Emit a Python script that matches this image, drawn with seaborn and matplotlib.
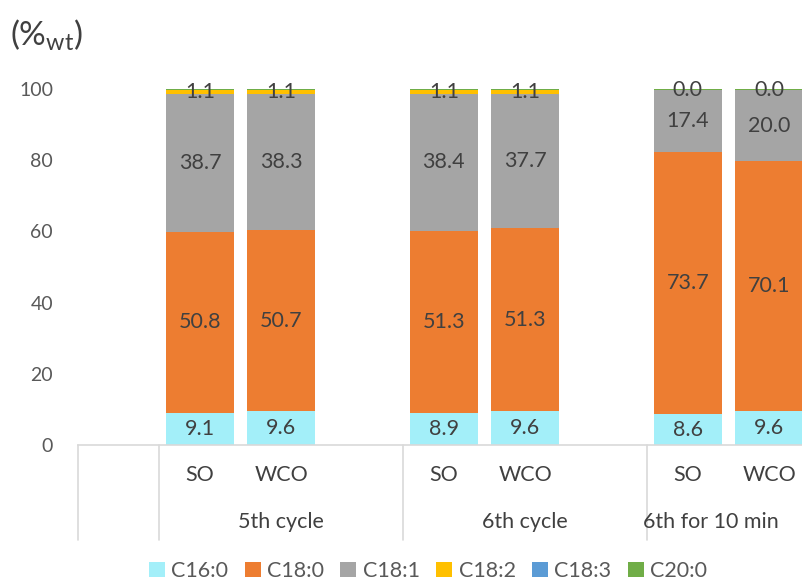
import matplotlib
matplotlib.use("Agg")
import matplotlib.pyplot as plt
import matplotlib.transforms as mtransforms
from matplotlib.patches import Patch
import seaborn as sns
import pandas as pd
import numpy as np

# ---- data ----
groups = ["5th cycle", "6th cycle", "6th for 10 min"]
samples = ["SO", "WCO"]
components = ["C16:0", "C18:0", "C18:1", "C18:2", "C18:3", "C20:0"]
c16_0 = [9.1, 9.6, 8.9, 9.6, 8.6, 9.6]
c18_0 = [50.8, 50.7, 51.3, 51.3, 73.7, 70.1]
c18_1 = [38.7, 38.3, 38.4, 37.7, 17.4, 20.0]
c18_2 = [1.1, 1.1, 1.1, 1.1, 0.0, 0.0]
c18_3 = [0.1, 0.1, 0.1, 0.1, 0.0, 0.0]
c20_0 = [0.2, 0.2, 0.2, 0.2, 0.4, 0.4]
colors = ["#a3eff9", "#ed7d31", "#a5a5a5", "#ffc000", "#5b9bd5", "#70ad47"]

sns.set_style("white")
plt.rcParams["font.family"] = ["Lato", "DejaVu Sans"]
plt.rcParams["mathtext.fontset"] = "custom"
plt.rcParams["mathtext.rm"] = "Lato"
plt.rcParams["mathtext.it"] = "Lato"

bar_ids = [f"{g}|{s}" for g in groups for s in samples]
order = ["_e0"]
for g in groups:
    order += [f"{g}|{s}" for s in samples] + [f"_e{g}"]

series = [c16_0, c18_0, c18_1, c18_2, c18_3, c20_0]
cum = np.cumsum(np.array(series), axis=0)

fig = plt.figure(figsize=(8.02, 5.82), dpi=100)
ax = fig.add_axes([78 / 802, 137 / 582, 813 / 802, 356 / 582])

# draw cumulative bars from top down so they stack
for i in range(len(components) - 1, -1, -1):
    df = pd.DataFrame({"bar": bar_ids, "val": cum[i]})
    sns.barplot(data=df, x="bar", y="val", order=order, color=colors[i],
                width=0.84, ax=ax, saturation=1, linewidth=0, errorbar=None)
for p in ax.patches:
    p.set_clip_on(False)

ax.set_ylim(0, 100)
ax.set_xlim(-0.5, len(order) - 0.5)
ax.set_xlabel("")
ax.set_ylabel("")
ax.set_xticks([])
ax.set_yticks([0, 20, 40, 60, 80, 100])
ax.tick_params(axis="y", length=0, pad=18, labelsize=14, labelcolor="#595959")
for s in ["left", "right", "top"]:
    ax.spines[s].set_visible(False)
ax.spines["bottom"].set_color("#d9d9d9")
ax.spines["bottom"].set_linewidth(1.2)

FS = 15.5
# value labels
pos = {b: order.index(b) for b in bar_ids}
for j, b in enumerate(bar_ids):
    x = pos[b]
    for i in range(4):
        lo = cum[i - 1][j] if i > 0 else 0
        val = series[i][j]
        ax.text(x, lo + val / 2, f"{val:.1f}", ha="center", va="center",
                fontsize=FS, color="#404040")

# category table
trans = mtransforms.blended_transform_factory(ax.transData, ax.transAxes)
for xb in [-0.5, 0.5, 3.5, 6.5, 9.5]:
    ax.plot([xb, xb], [0, -0.267], transform=trans, color="#d9d9d9",
            lw=1.2, clip_on=False)
for b in bar_ids:
    ax.text(pos[b], -0.085, b.split("|")[1], transform=trans, ha="center",
            va="center", fontsize=FS, color="#404040")
ax.text(2, -0.215, groups[0], transform=trans, ha="center", va="center",
        fontsize=FS, color="#404040")
ax.text(5, -0.215, groups[1], transform=trans, ha="center", va="center",
        fontsize=FS, color="#404040")
ax.text(6.45, -0.215, groups[2], transform=trans, ha="left", va="center",
        fontsize=FS, color="#404040")

# unit label
fig.text(10 / 802, 1 - 35 / 582, r"(%$_{\mathrm{wt}}$)", ha="left",
         va="center", fontsize=24, color="#404040")

handles = [Patch(facecolor=c, edgecolor="none") for c in colors]
fig.legend(handles, components, loc="center", ncol=6,
           bbox_to_anchor=(428 / 802, 1 - 571 / 582), frameon=False,
           fontsize=FS, handlelength=0.75, handleheight=0.75,
           handletextpad=0.3, columnspacing=0.75, labelcolor="#595959")

fig.savefig("out.png", dpi=100)
